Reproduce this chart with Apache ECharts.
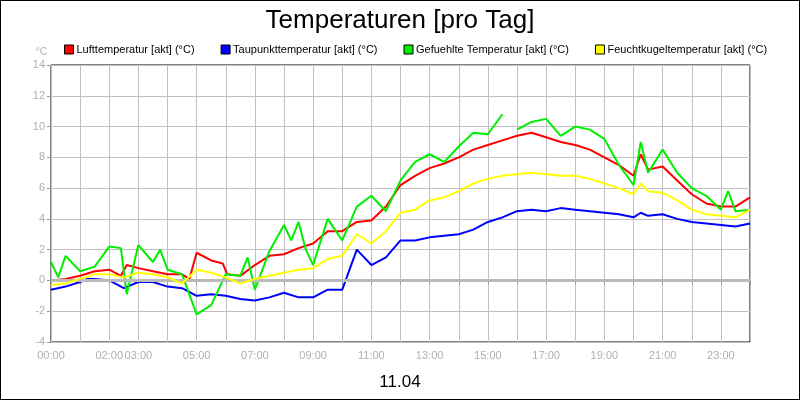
<!DOCTYPE html>
<html>
<head>
<meta charset="utf-8">
<script src="https://cdn.jsdelivr.net/npm/echarts@6/dist/echarts.min.js"></script>
<style>
  html, body { margin: 0; padding: 0; background: #fff; }
  #chart { width: 798px; height: 398px; border: 1px solid #000; }
</style>
</head>
<body>
<div id="chart"></div>
<script>
// [Stunde, Wert]
const luft = [[0,0.0],[0.5,0.1],[1,0.3],[1.5,0.6],[2,0.7],[2.4,0.3],[2.6,1.0],[3,0.8],[3.5,0.6],[4,0.4],[4.5,0.4],[4.75,0.1],[5,1.8],[5.5,1.3],[5.9,1.1],[6.05,0.4],[6.5,0.3],[7,1.0],[7.5,1.6],[8,1.7],[8.5,2.1],[9,2.4],[9.5,3.2],[10,3.2],[10.5,3.8],[11,3.9],[11.5,4.8],[12,6.2],[12.5,6.8],[13,7.3],[13.5,7.6],[14,8.0],[14.5,8.5],[15,8.8],[15.5,9.1],[16,9.4],[16.5,9.6],[17,9.3],[17.5,9.0],[18,8.8],[18.5,8.5],[19,8.0],[19.5,7.5],[20,6.8],[20.25,8.2],[20.5,7.2],[21,7.4],[21.5,6.5],[22,5.6],[22.5,5.0],[23,4.8],[23.5,4.8],[24,5.4]]
const taupunkt = [[0,-0.6],[0.5,-0.4],[1,-0.1],[1.25,0.1],[1.5,0.1],[2,0.0],[2.5,-0.5],[3,-0.1],[3.5,-0.1],[4,-0.4],[4.5,-0.5],[5,-1.0],[5.5,-0.9],[6,-1.0],[6.5,-1.2],[7,-1.3],[7.5,-1.1],[8,-0.8],[8.5,-1.1],[9,-1.1],[9.5,-0.6],[10,-0.6],[10.5,2.0],[11,1.0],[11.5,1.5],[12,2.6],[12.5,2.6],[13,2.8],[13.5,2.9],[14,3.0],[14.5,3.3],[15,3.8],[15.5,4.1],[16,4.5],[16.5,4.6],[17,4.5],[17.5,4.7],[18,4.6],[18.5,4.5],[19,4.4],[19.5,4.3],[20,4.1],[20.25,4.4],[20.5,4.2],[21,4.3],[21.5,4.0],[22,3.8],[22.5,3.7],[23,3.6],[23.5,3.5],[24,3.7]]
const gefuehlt = [[0,1.2],[0.25,0.2],[0.5,1.6],[1,0.6],[1.5,0.9],[2,2.2],[2.4,2.1],[2.6,-0.9],[3,2.3],[3.5,1.2],[3.75,2.0],[4,0.7],[4.5,0.4],[5,-2.2],[5.5,-1.6],[6,0.4],[6.5,0.3],[6.75,1.5],[7,-0.6],[7.5,1.9],[8,3.6],[8.25,2.6],[8.5,3.8],[8.75,2.0],[9,1.0],[9.5,4.0],[10,2.6],[10.5,4.8],[11,5.5],[11.5,4.5],[12,6.5],[12.5,7.7],[13,8.2],[13.5,7.7],[14,8.7],[14.5,9.6],[15,9.5],[15.5,10.8],[15.6,'-'],[16,9.8],[16.5,10.3],[17,10.5],[17.5,9.4],[18,10.0],[18.5,9.8],[19,9.2],[19.5,7.5],[20,6.2],[20.25,9.0],[20.5,7.0],[21,8.5],[21.5,7.0],[22,6.0],[22.5,5.5],[23,4.6],[23.25,5.8],[23.5,4.5],[24,4.6]]
const feuchtkugel = [[0,-0.3],[0.5,-0.2],[1,0.1],[1.5,0.4],[2,0.4],[2.5,0.2],[3,0.5],[3.5,0.4],[4,0.2],[4.5,-0.2],[5,0.7],[5.5,0.5],[6,0.2],[6.5,-0.2],[7,0.1],[7.5,0.3],[8,0.5],[8.5,0.7],[9,0.8],[9.5,1.4],[10,1.6],[10.5,3.0],[11,2.4],[11.5,3.2],[12,4.4],[12.5,4.6],[13,5.2],[13.5,5.4],[14,5.8],[14.5,6.3],[15,6.6],[15.5,6.8],[16,6.9],[16.5,7.0],[17,6.9],[17.5,6.8],[18,6.8],[18.5,6.6],[19,6.3],[19.5,6.0],[20,5.6],[20.25,6.3],[20.5,5.8],[21,5.7],[21.5,5.2],[22,4.6],[22.5,4.3],[23,4.2],[23.5,4.1],[24,4.6]]
const namen = ['Lufttemperatur [akt] (°C)', 'Taupunkttemperatur [akt] (°C)', 'Gefuehlte Temperatur [akt] (°C)', 'Feuchtkugeltemperatur [akt] (°C)']
const farben = ['#ff0000', '#0000ff', '#00ee00', '#ffff00']
const stundenMitLabel = [0, 2, 3, 5, 7, 9, 11, 13, 15, 17, 19, 21, 23]

const myChart = echarts.init(document.querySelector('#chart'))
const reihen = [luft, taupunkt, gefuehlt, feuchtkugel]
const option = {
    animation: false,
    title: [
        { text: 'Temperaturen [pro Tag]', left: 'center', top: 2, textStyle: { fontFamily: 'Liberation Sans', fontSize: 26, fontWeight: 'normal', color: '#000' } },
        { text: '11.04', left: 'center', top: 368, textStyle: { fontFamily: 'Liberation Sans', fontSize: 17, fontWeight: 'normal', color: '#000' } }
    ],
    legend: {
        top: 38, left: 58, itemGap: 26, itemWidth: 9, itemHeight: 9, icon: 'rect',
        data: namen.map((n, i) => ({ name: n, itemStyle: { color: farben[i], borderColor: '#000', borderWidth: 1 } })),
        textStyle: { fontFamily: 'Liberation Sans', fontSize: 11, color: '#000', padding: [0, 0, 0, -2] }
    },
    grid: { left: 50, right: 49, top: 64, bottom: 57, show: true, borderColor: '#000', borderWidth: 1 },
    xAxis: {
        type: 'value', min: 0, max: 24, interval: 1,
        axisLine: { show: false },
        axisTick: { show: true, lineStyle: { color: '#999' }, length: 4 },
        splitLine: { show: true, lineStyle: { color: '#c0c0c0' } },
        axisLabel: {
            color: '#b0b0b0', fontFamily: 'Liberation Sans', fontSize: 11, margin: 8,
            formatter: v => stundenMitLabel.includes(v) ? String(v).padStart(2, '0') + ':00' : ''
        }
    },
    yAxis: {
        type: 'value', min: -4, max: 14, interval: 2,
        name: '°C', nameGap: 8, nameTextStyle: { color: '#b0b0b0', fontSize: 10, align: 'right', padding: [0, 4, 0, 0] },
        axisLine: { show: false },
        axisTick: { show: true, lineStyle: { color: '#999' }, length: 4 },
        splitLine: { show: true, lineStyle: { color: '#c0c0c0' } },
        axisLabel: { color: '#b0b0b0', fontFamily: 'Liberation Sans', fontSize: 11, margin: 6 }
    },
    series: reihen.map((d, i) => ({
        name: namen[i], type: 'line', data: d, showSymbol: false,
        lineStyle: { color: farben[i], width: 2 }, itemStyle: { color: farben[i] },
        markLine: i === 0 ? { silent: true, symbol: 'none', label: { show: false }, lineStyle: { color: '#bbbbbb', width: 3, type: 'solid' }, data: [{ yAxis: 0 }] } : undefined,
        z: 2 + i
    }))
}
myChart.setOption(option)
</script>
</body>
</html>
